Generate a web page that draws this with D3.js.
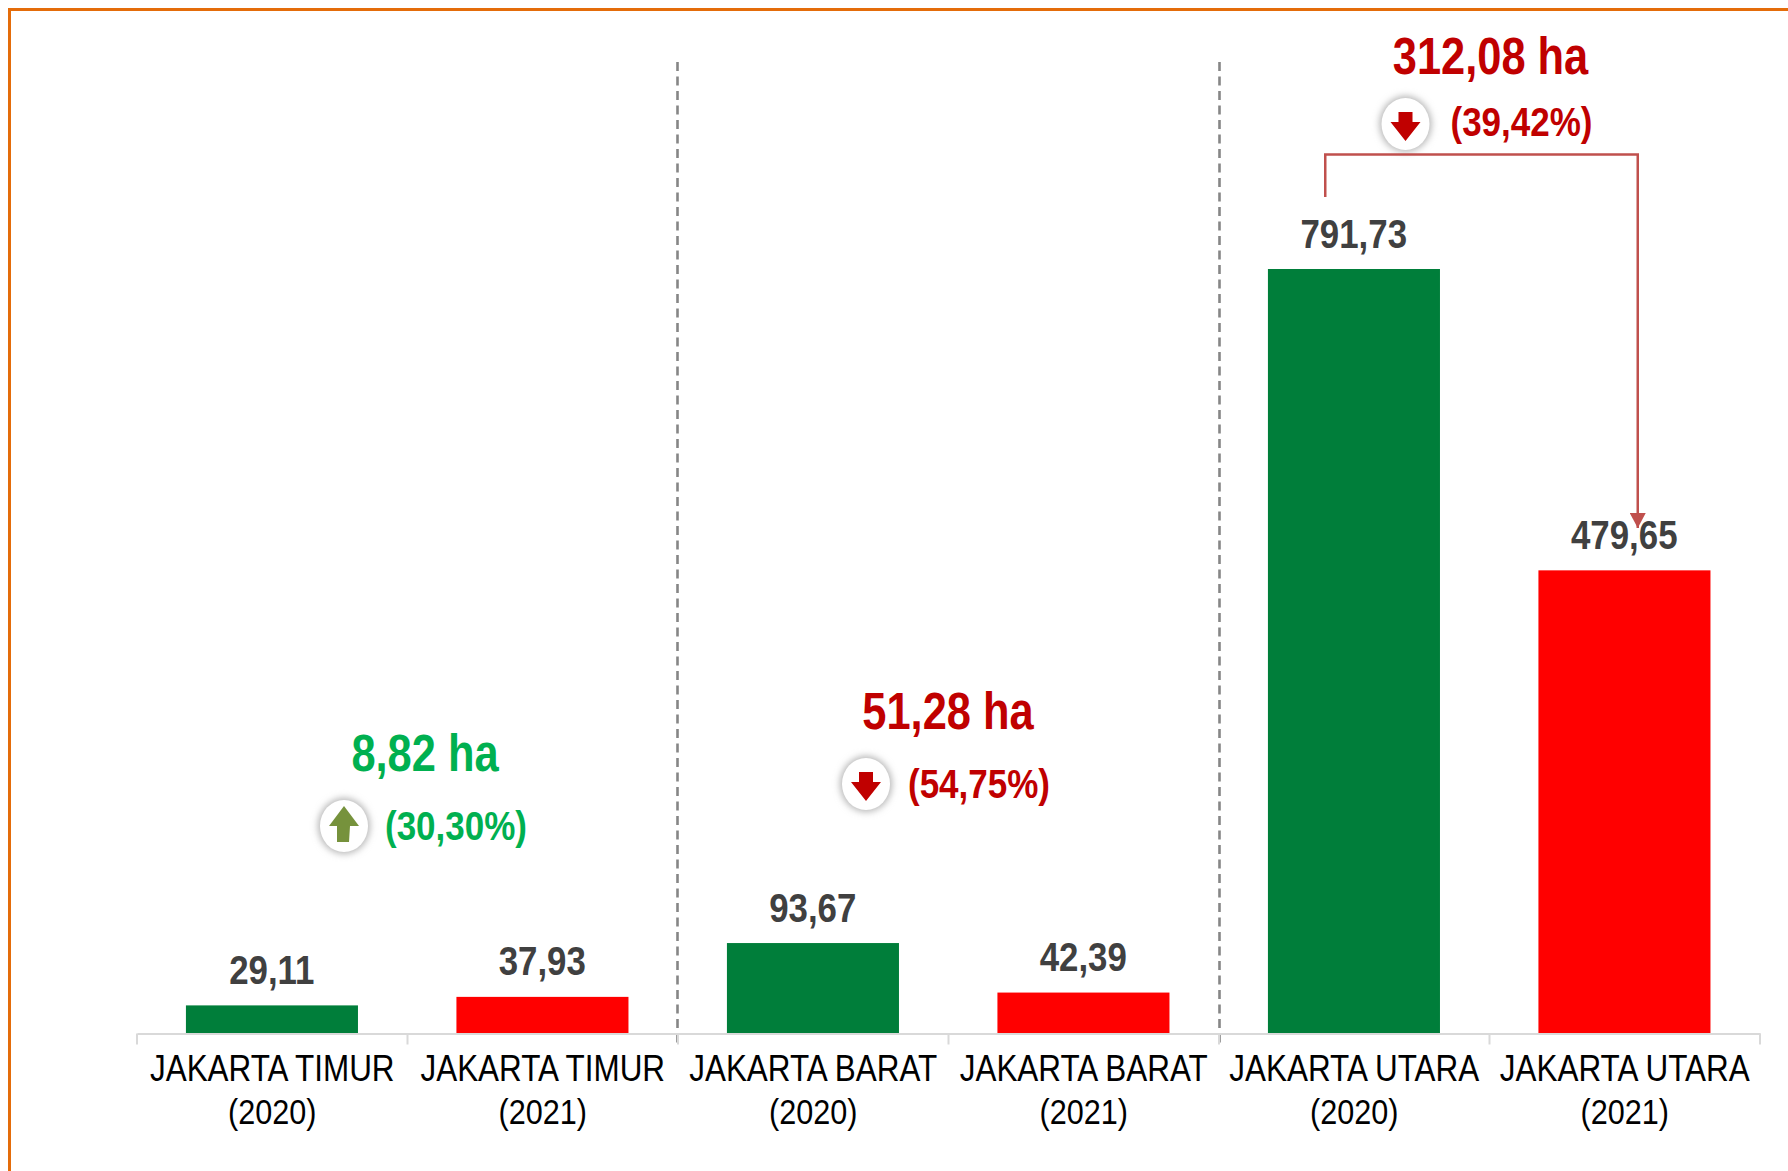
<!DOCTYPE html>
<html><head><meta charset="utf-8">
<script src="https://cdn.jsdelivr.net/npm/d3@7"></script>
<style>html,body{margin:0;padding:0;background:#fff}svg{display:block}
text{font-family:"Liberation Sans",Arial,sans-serif}</style></head>
<body><svg id="c" width="1788" height="1171"></svg>
<script>
const regions = ["JAKARTA TIMUR","JAKARTA TIMUR","JAKARTA BARAT","JAKARTA BARAT","JAKARTA UTARA","JAKARTA UTARA"];
const years = ["2020","2021","2020","2021","2020","2021"];
const values = [29.11,37.93,93.67,42.39,791.73,479.65];
const valueLabels = ["29,11","37,93","93,67","42,39","791,73","479,65"];
const changeLabels = ["8,82 ha","51,28 ha","312,08 ha"];
const percentLabels = ["(30,30%)","(54,75%)","(39,42%)"];
const directions = ["up","down","down"];

const W=1788,H=1171,base=1033.5,left=137,right=1760;
const keys=regions.map((r,i)=>i);
const x=d3.scaleBand().domain(keys).range([left,right]).paddingInner(0.364).paddingOuter(0.182);
const y=d3.scaleLinear().domain([0,791.73]).range([base,269]);
const svg=d3.select("#c");
const defs=svg.append("defs");
const f=defs.append("filter").attr("id","glow").attr("x","-50%").attr("y","-50%").attr("width","200%").attr("height","200%");
f.append("feGaussianBlur").attr("stdDeviation",3.5);
defs.append("marker").attr("id","ah").attr("markerUnits","userSpaceOnUse").attr("markerWidth",16).attr("markerHeight",16)
  .attr("refX",8).attr("refY",15).attr("viewBox","0 0 16 16")
  .attr("orient",0).append("path").attr("d","M0,0L16,0L8,15Z").attr("fill","#C0504D");

// frame
svg.append("path").attr("d",`M9.5,${H}V9.5H${W}`).attr("fill","none").attr("stroke","#E46C0A").attr("stroke-width",3);

// separators
const bandStep=x.step();
[[2,-0.5],[4,0.5]].forEach(([i,dx])=>{
  svg.append("line").attr("x1",left+bandStep*i+dx).attr("x2",left+bandStep*i+dx).attr("y1",62).attr("y2",1044)
    .attr("stroke","#868686").attr("stroke-width",2.6).attr("stroke-dasharray","9 5.5");
});

// bars
svg.selectAll("rect.bar").data(values).join("rect").attr("class","bar")
  .attr("x",(d,i)=>x(i)-0.3).attr("width",x.bandwidth()).attr("y",d=>y(d)).attr("height",d=>base-y(d))
  .attr("fill",(d,i)=>i%2?"#FF0000":"#007E3A");

// axis
const ax=svg.append("g").attr("transform",`translate(0,${base})`).call(d3.axisBottom(x).tickSize(0).tickFormat(""));
ax.select(".domain").attr("stroke","#D9D9D9").attr("stroke-width",2);
d3.range(7).forEach(i=>svg.append("line").attr("x1",left+bandStep*i).attr("x2",left+bandStep*i)
  .attr("y1",base).attr("y2",base+11).attr("stroke","#D9D9D9").attr("stroke-width",2));
ax.selectAll(".tick text").remove();
const lab=ax.selectAll(".tick").append("text").attr("fill","#000").attr("text-anchor","middle")
  .attr("transform","scale(0.85,1)").style("font-size","37px");
lab.append("tspan").attr("x",0).attr("y",48).text(d=>regions[d]);
lab.append("tspan").attr("x",0).attr("y",91).attr("dx",0).style("font-size","36px").text(d=>`(${years[d]})`);

// value labels
svg.selectAll("text.v").data(values).join("text").attr("class","v")
  .attr("transform",(d,i)=>`translate(${x(i)+x.bandwidth()/2-0.5},${y(d)-21.5}) scale(0.85,1)`)
  .attr("text-anchor","middle").attr("fill","#404040").attr("font-weight","bold").style("font-size","41px")
  .text((d,i)=>valueLabels[i]);

// change annotations
const annoX=[425,948,1490.5], annoY=[771,729,74];
const pctDy=[69,69,62], badgeDx=[-81,-82,-85], badgeDy=[55,55,50];
changeLabels.forEach((t,i)=>{
  const col=directions[i]==="up"?"#00B050":"#C00000";
  const g=svg.append("g").attr("transform",`translate(${annoX[i]},${annoY[i]})`);
  g.append("text").attr("transform","scale(0.835,1)").attr("text-anchor","middle").attr("fill",col).attr("font-weight","bold").style("font-size","52px").text(t);
  g.append("text").attr("transform",`translate(31,${pctDy[i]}) scale(0.875,1)`).attr("text-anchor","middle").attr("fill",col).attr("font-weight","bold").style("font-size","40px").text(percentLabels[i]);
  const b=g.append("g").attr("transform",`translate(${badgeDx[i]},${badgeDy[i]})`);
  b.append("ellipse").attr("rx",26).attr("ry",28).attr("fill","#b5b5b5").attr("filter","url(#glow)");
  b.append("ellipse").attr("rx",24).attr("ry",26).attr("fill","#fff");
  if(directions[i]==="up") b.append("path").attr("d","M0,-20L15,0L6,0L5,16L-7,16L-7,0L-15,0Z").attr("fill","#76923C");
  else b.append("path").attr("d","M-7,-12H7V-2H15L0,17L-15,-2H-7Z").attr("fill","#C00000");
});

// connector
const x1=x(4)+x.bandwidth()/2-29, x2=x(5)+x.bandwidth()/2+13;
svg.append("path").attr("d",`M${x1},197V154.5H${x2}V528`).attr("fill","none").attr("stroke","#C0504D").attr("stroke-width",2.5).attr("marker-end","url(#ah)");
</script></body></html>
